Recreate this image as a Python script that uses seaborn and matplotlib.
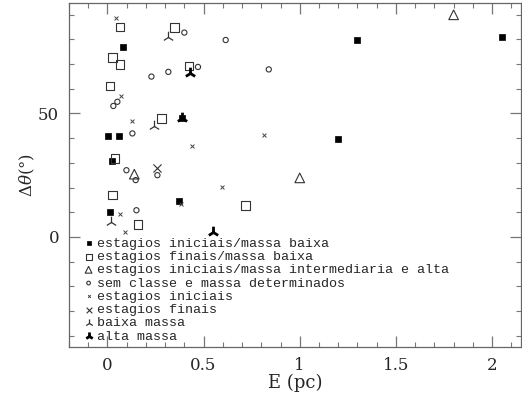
import matplotlib
matplotlib.use("Agg")
import matplotlib.pyplot as plt
import seaborn as sns
import pandas as pd
from matplotlib.ticker import MultipleLocator

# ---- data ----
ini_baixa_x = [0.08, 0.005, 0.06, 0.022, 0.012, 0.371, 0.39, 1.2, 1.3, 2.05]
ini_baixa_y = [76.8, 40.8, 40.8, 30.8, 9.9, 14.6, 48.0, 39.8, 79.7, 80.8]

fin_baixa_x = [0.066, 0.026, 0.066, 0.014, 0.35, 0.425, 0.28, 0.04, 0.026, 0.159, 0.719]
fin_baixa_y = [84.9, 72.7, 69.9, 61.1, 84.7, 69.2, 48.0, 31.8, 16.9, 5.1, 12.8]

ini_alta_x = [0.14, 1.0, 1.8]
ini_alta_y = [25.4, 23.9, 89.9]

sem_classe_x = [0.052, 0.031, 0.229, 0.317, 0.40, 0.615, 0.471, 0.839, 0.13, 0.099, 0.147, 0.26, 0.151]
sem_classe_y = [54.7, 53.0, 64.9, 66.8, 82.7, 79.7, 68.8, 67.8, 41.9, 27.0, 23.0, 25.0, 10.8]

est_ini_x = [0.043, 0.069, 0.13, 0.815, 0.44, 0.598, 0.381, 0.064, 0.092]
est_ini_y = [88.8, 57.0, 47.0, 41.2, 36.8, 20.3, 13.5, 9.1, 2.0]

est_fin_x = [0.26]
est_fin_y = [28.1]

baixa_massa_x = [0.317, 0.24, 0.017]
baixa_massa_y = [81.1, 44.8, 6.1]

alta_massa_x = [0.428, 0.39, 0.549]
alta_massa_y = [66.2, 48.0, 2.0]

labels = [
    "estagios iniciais/massa baixa",
    "estagios finais/massa baixa",
    "estagios iniciais/massa intermediaria e alta",
    "sem classe e massa determinados",
    "estagios iniciais",
    "estagios finais",
    "baixa massa",
    "alta massa",
]

x_ticks = [0, 0.5, 1, 1.5, 2]
x_tick_labels = ["0", "0.5", "1", "1.5", "2"]
y_ticks = [0, 50]
y_tick_labels = ["0", "50"]

# ---- plotting ----
sns.set_style("ticks")
plt.rcParams["font.family"] = ["DejaVu Serif"]
plt.rcParams["mathtext.fontset"] = "dejavuserif"

fig = plt.figure(figsize=(5.22, 3.99), dpi=100)
ax = fig.add_axes([0.132, 0.130, 0.866, 0.862])

series = [
    (ini_baixa_x, ini_baixa_y, dict(marker="s", s=20, color="black", edgecolor="black", linewidth=0.5)),
    (fin_baixa_x, fin_baixa_y, dict(marker="s", s=38, facecolor="none", edgecolor="#333333", linewidth=0.8)),
    (ini_alta_x, ini_alta_y, dict(marker="^", s=48, facecolor="none", edgecolor="#333333", linewidth=0.8)),
    (sem_classe_x, sem_classe_y, dict(marker="o", s=14, facecolor="none", edgecolor="#333333", linewidth=0.8)),
    (est_ini_x, est_ini_y, dict(marker="x", s=8, color="#444444", linewidth=0.7)),
    (est_fin_x, est_fin_y, dict(marker="x", s=34, color="#333333", linewidth=0.8)),
    (baixa_massa_x, baixa_massa_y, dict(marker="2", s=70, color="#333333", linewidth=0.9)),
    (alta_massa_x, alta_massa_y, dict(marker="2", s=70, color="black", linewidth=2.0)),
]

for (xs, ys, kw), lab in zip(series, labels):
    df = pd.DataFrame({"E": xs, "dtheta": ys})
    sns.scatterplot(data=df, x="E", y="dtheta", ax=ax, label=lab, **kw)

ax.set_xlim(-0.2, 2.15)
ax.set_ylim(-44.6, 94.6)
ax.set_xticks(x_ticks)
ax.set_xticklabels(x_tick_labels)
ax.set_yticks(y_ticks)
ax.set_yticklabels(y_tick_labels)
ax.xaxis.set_minor_locator(MultipleLocator(0.1))
ax.yaxis.set_minor_locator(MultipleLocator(10))
ax.tick_params(which="both", direction="in", top=True, right=True, color="#777777")
ax.tick_params(which="major", length=8, width=0.9, labelsize=12, pad=7)
ax.tick_params(which="minor", length=3.5, width=0.8)
for sp in ax.spines.values():
    sp.set_color("#666666")
    sp.set_linewidth(0.9)

ax.set_xlabel("E (pc)", fontsize=13, labelpad=0)
ax.set_ylabel(r"$\Delta\theta$(°)", fontsize=12, labelpad=1)

leg = ax.legend(loc="lower left", bbox_to_anchor=(0.014, -0.014), frameon=False,
                prop={"family": "Liberation Mono", "size": 9.6},
                handlelength=0.6, handletextpad=0.35,
                labelspacing=0.07, borderpad=0.2, markerscale=0.7)

fig.savefig("out.png", dpi=100)
